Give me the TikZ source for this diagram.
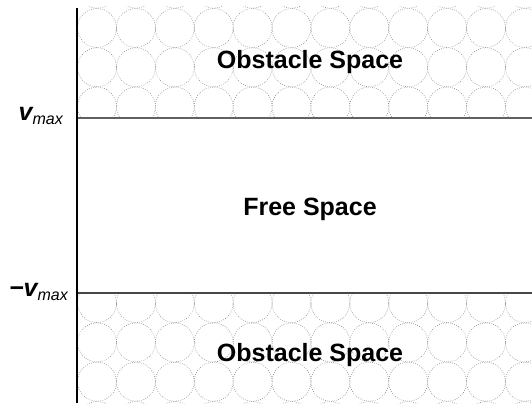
\documentclass[tikz,border=0pt]{standalone}
\usepackage{fontspec}
\setmainfont{Liberation Sans}
\begin{document}
\begin{tikzpicture}[x=1pt,y=-1pt,
  obst/.style={draw=black!50,line width=0.55pt,dash pattern=on 0.7pt off 1.5pt},
  bound/.style={draw=black!62,line width=2.8pt},
  axisline/.style={draw=black,line width=1.6pt},
  region/.style={font=\fontsize{25}{25}\selectfont\bfseries},
  vlab/.style={anchor=base east,inner sep=0pt}]
\useasboundingbox (0,0) rectangle (532,409);
% obstacle circles
\begin{scope}
  \clip (78,7) rectangle (532,118);
  \foreach \i in {0,...,12}{
    \foreach \j in {-1,0,1,2,3}{
      \draw[obst] ({97+38.9*\i},{28+39.3*\j}) circle (19.5);
    }
  }
\end{scope}
\begin{scope}
  \clip (78,293) rectangle (532,403);
  \foreach \i in {0,...,12}{
    \foreach \j in {6,7,8,9,10}{
      \draw[obst] ({97+38.9*\i},{28+39.3*\j}) circle (19.5);
    }
  }
\end{scope}
% boundaries
\coordinate (t0) at (78,118);
\coordinate (t1) at (532,118);
\coordinate (b0) at (78,293);
\coordinate (b1) at (532,293);
\draw[bound] (t0) -- (t1);
\draw[bound,draw=black!72] (b0) -- (b1);
\coordinate (ax0) at (77,8);
\coordinate (ax1) at (77,403);
\draw[axisline] (ax0) -- (ax1);
% texts
\node[region] (o1) at (310,62) {Obstacle Space};
\node[region] (fs) at (310,209) {Free Space};
\node[region] (o2) at (310,355) {Obstacle Space};
\node[vlab] (vmax) at (63,121) {{\fontsize{25}{25}\selectfont\bfseries\itshape v}\raisebox{-4pt}{\fontsize{16}{16}\selectfont\itshape max}};
\node[vlab] (nvmax) at (68,296) {{\fontsize{25}{25}\selectfont\bfseries\itshape −v}\raisebox{-4pt}{\fontsize{16}{16}\selectfont\itshape max}};
\end{tikzpicture}
\end{document}
